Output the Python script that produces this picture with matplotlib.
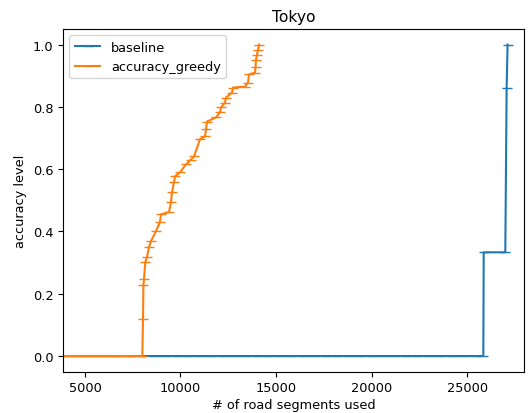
import matplotlib
matplotlib.use('Agg')
import matplotlib.pyplot as plt

# baseline series
baseline_x = [3850, 4400, 5000, 5600, 6200, 6800, 7400, 8000, 8600, 9200, 9800,
              10400, 11000, 11600, 12200, 12800, 13400, 14000, 14600, 15200,
              15800, 16400, 17000, 17600, 18200, 18800, 19400, 20000, 20600,
              21200, 21800, 22400, 23000, 23600, 24200, 24800, 25400, 25850,
              25870, 27000, 27070, 27120]
baseline_y = [0] * 38 + [0.333, 0.333, 0.862, 1.0]

# greedy series
greedy_x = [3850, 4500, 5200, 5900, 6600, 7300, 8000, 8040, 8060, 8090, 8157,
            8246, 8351, 8455, 8717, 8927, 8979, 9398, 9503, 9555, 9660, 9712,
            9974, 10288, 10550, 10707, 11021, 11283, 11335, 11387, 11859,
            12068, 12120, 12330, 12382, 12696, 12749, 13377, 13534, 13586,
            13901, 13930, 13953, 14005, 14058, 14110]
greedy_y = [0, 0, 0, 0, 0, 0, 0, 0.119, 0.228, 0.247, 0.302,
            0.318, 0.35, 0.369, 0.401, 0.43, 0.455, 0.462, 0.494, 0.526, 0.558, 0.577,
            0.59, 0.615, 0.631, 0.641, 0.696, 0.705, 0.728, 0.753, 0.766,
            0.782, 0.798, 0.814, 0.83, 0.846, 0.862, 0.865, 0.878, 0.904,
            0.91, 0.929, 0.952, 0.968, 0.984, 1.0]

plt.rcParams['font.size'] = 9.3

fig = plt.figure(figsize=(5.32, 4.14), dpi=100)
ax = fig.add_axes([0.1184, 0.1, 0.8666, 0.8275])

ax.plot(baseline_x, baseline_y, marker='_', markersize=7, linewidth=1.5,
        label='baseline')
ax.plot(greedy_x, greedy_y, marker='_', markersize=7, linewidth=1.5,
        label='accuracy_greedy')

ax.set_xlim(3850, 27980)
ax.set_ylim(-0.05, 1.05)
ax.set_title('Tokyo')
ax.set_xlabel('# of road segments used', labelpad=3)
ax.set_ylabel('accuracy level')
ax.legend(loc='upper left')

fig.savefig('out.png', dpi=100)
